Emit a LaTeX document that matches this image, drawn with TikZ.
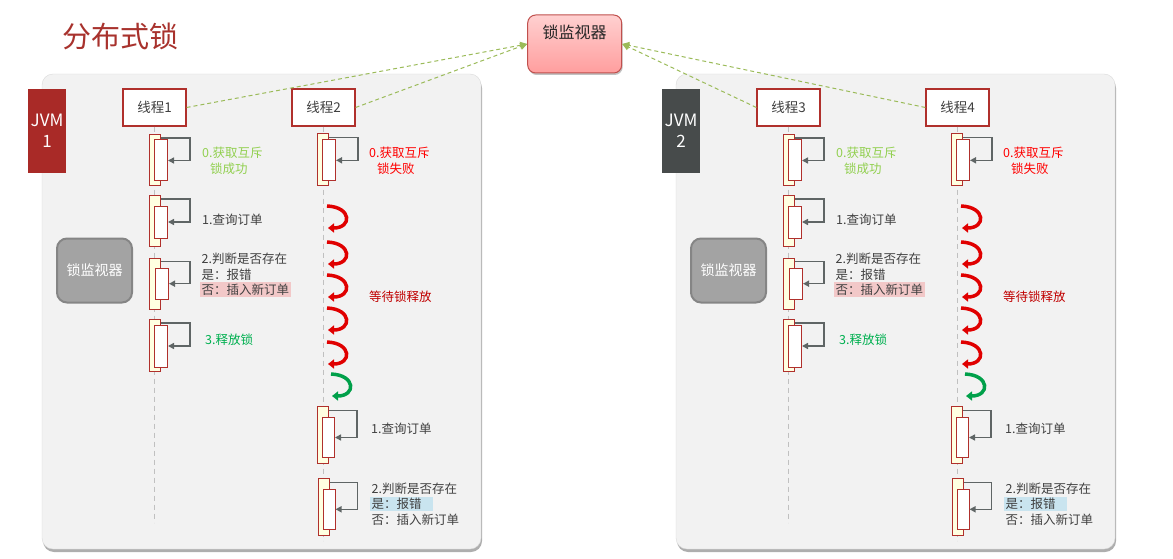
\documentclass[tikz,border=0pt]{standalone}
\usepackage{fontspec}
\newfontfamily\cjk{Noto Sans CJK SC}
\usetikzlibrary{positioning, arrows.meta, calc, shadows}
\definecolor{titleRed}{HTML}{A8322D}
\definecolor{borderRed}{HTML}{B0302C}
\definecolor{jvmRed}{HTML}{A92A27}
\definecolor{jvmGray}{HTML}{474B4B}
\definecolor{bgPanel}{HTML}{F2F2F2}
\definecolor{borderPanel}{HTML}{DADADA}
\definecolor{bgAct}{HTML}{FFFFE1}
\definecolor{loopGray}{HTML}{5F6565}
\definecolor{lifeGray}{HTML}{C0C0C0}
\definecolor{textGray}{HTML}{404040}
\definecolor{okGreen}{HTML}{92D050}
\definecolor{relGreen}{HTML}{00B050}
\definecolor{failRed}{HTML}{FF0000}
\definecolor{waitRed}{HTML}{C00000}
\definecolor{curlRed}{HTML}{E00000}
\definecolor{curlGreen}{HTML}{00A04A}
\definecolor{hlPink}{HTML}{F2C8C8}
\definecolor{hlBlue}{HTML}{C9E4EF}
\definecolor{linkGreen}{HTML}{9BBB59}
\definecolor{monTop}{HTML}{FFD0D0}
\definecolor{monBottom}{HTML}{FF9E9E}
\definecolor{monBorder}{HTML}{C0504D}
\definecolor{bgMonGray}{HTML}{A3A3A3}
\definecolor{borderMonGray}{HTML}{858585}
\setlength{\fboxsep}{1.5pt}

\begin{document}
\begin{tikzpicture}[
    x=1pt, y=-1pt,
    font=\cjk,
    >={Triangle[length=6pt, width=6pt]},
    threadBox/.style={
        draw=borderRed, fill=white, line width=1.2pt, inner sep=0pt,
        minimum width=63pt, minimum height=37pt,
        text=textGray, font=\cjk\fontsize{13.5}{16}\selectfont
    },
    actOuter/.style={draw=borderRed, fill=bgAct, line width=1pt, minimum width=11pt, inner sep=0pt},
    actInner/.style={draw=borderRed, fill=white, line width=1pt, minimum width=13pt, inner sep=0pt},
    selfLoop/.style={->, draw=loopGray, line width=1.5pt},
    lifeline/.style={draw=lifeGray, line width=1.3pt, dash pattern=on 5pt off 4pt},
    curl/.style={-{Triangle[length=6pt, width=9pt]}, line width=3.5pt},
    stepText/.style={anchor=west, align=left, inner sep=0pt, text=textGray, font=\cjk\fontsize{12.5}{15.5}\selectfont},
    jvmTag/.style={minimum width=38pt, minimum height=84pt, inner sep=0pt, align=center, text=white, font=\cjk\fontsize{17}{21}\selectfont},
    grayMon/.style={
        draw=borderMonGray, fill=bgMonGray, line width=2pt, rounded corners=10pt,
        minimum width=75pt, minimum height=64pt, text=white, font=\cjk\fontsize{14}{16}\selectfont
    },
    monitor/.style={
        draw=monBorder, top color=monTop, bottom color=monBottom, line width=1pt, rounded corners=8pt,
        minimum width=94pt, minimum height=58pt, text height=12pt, text depth=22pt,
        text=black!85, font=\cjk\fontsize{16}{18}\selectfont,
        drop shadow={shadow xshift=1pt, shadow yshift=-2pt, fill=black!40, opacity=0.6}
    },
    link/.style={-{Triangle[length=7pt, width=7pt]}, draw=linkGreen, line width=1pt, dash pattern=on 4pt off 3pt}
]
\useasboundingbox (0,0) rectangle (1173,559);

\node[anchor=west, inner sep=0pt, text=titleRed, font=\cjk\fontsize{29}{32}\selectfont] (title) at (62,36) {分布式锁};

% one panel per JVM
\foreach \dx/\jvm/\tagCol/\ta/\tb in {0/1/jvmRed/1/2, 634/2/jvmGray/3/4}{
\begin{scope}[xshift=\dx pt]
    \filldraw[fill=bgPanel, draw=borderPanel, rounded corners=11pt,
        drop shadow={shadow xshift=1pt, shadow yshift=-3pt, fill=black!45, opacity=0.7}] (42,74) rectangle (481,549);

    \node[jvmTag, fill=\tagCol] (jvm\jvm) at (47,131) {JVM\\\jvm};
    \node[grayMon] (gm\jvm) at (94.5,270.5) {锁监视器};

    \node[threadBox] (t\ta) at (154.5,107.5) {线程\ta};
    \node[threadBox] (t\tb) at (323.5,107.5) {线程\tb};

    \draw[lifeline] (t\ta.south) -- ++(0,396) coordinate (end\ta);
    \draw[lifeline] (t\tb.south) -- ++(0,414) coordinate (end\tb);

    % thread holding the lock
    \node[actOuter, minimum height=51pt] (a\ta-0) at (155,160) {};
    \node[actInner, minimum height=41pt] (i\ta-0) at (161,160.5) {};
    \draw[selfLoop] ([yshift=-4pt]a\ta-0.north east) -- ++(29,0) |- (i\ta-0.east);

    \node[actOuter, minimum height=51pt] (a\ta-1) at (155,221) {};
    \node[actInner, minimum height=32pt] (i\ta-1) at (161,222) {};
    \draw[selfLoop] ([yshift=-4pt]a\ta-1.north east) -- ++(29,0) |- (i\ta-1.east);

    \node[actOuter, minimum height=51pt] (a\ta-2) at (155,283.5) {};
    \node[actInner, minimum height=31pt] (i\ta-2) at (162,283.7) {};
    \draw[selfLoop] ([yshift=-4pt]a\ta-2.north east) -- ++(29,0) |- (i\ta-2.east);

    \node[actOuter, minimum height=52pt] (a\ta-3) at (155,345.5) {};
    \node[actInner, minimum height=42pt] (i\ta-3) at (161,346) {};
    \draw[selfLoop] ([yshift=-4pt]a\ta-3.north east) -- ++(29,0) |- (i\ta-3.east);

    \node[stepText, text=okGreen] (s\ta-0) at (202,161) {0.获取互斥\\\hspace*{8pt}锁成功};
    \node[stepText] (s\ta-1) at (202,220) {1.查询订单};
    \node[stepText] (s\ta-2) at (200,275) {\hspace*{1.5pt}2.判断是否存在\\\hspace*{1.5pt}是：报错\\\colorbox{hlPink}{否：插入新订单}};
    \node[stepText, text=relGreen] (s\ta-3) at (205,340) {3.释放锁};

    % thread waiting for the lock
    \node[actOuter, minimum height=51pt] (a\tb-0) at (323,159.5) {};
    \node[actInner, minimum height=41pt] (i\tb-0) at (329,160.3) {};
    \draw[selfLoop] ([yshift=-4pt]a\tb-0.north east) -- ++(29,0) |- (i\tb-0.east);

    \foreach \cy in {206,242,275,308,342}
        \draw[curl, curlRed] (327,\cy) .. controls (352,\cy+1) and (352,\cy+22) .. (328,\cy+22);
    \draw[curl, curlGreen] (331,374) .. controls (356,375) and (356,396) .. (332,396);

    \node[actOuter, minimum height=57pt] (a\tb-1) at (323,434.7) {};
    \node[actInner, minimum height=40pt, minimum width=12pt] (i\tb-1) at (328.5,437.5) {};
    \draw[selfLoop] ([yshift=-5pt]a\tb-1.north east) -- ++(28,0) |- (i\tb-1.east);

    \node[actOuter, minimum height=57pt] (a\tb-2) at (323.5,506.7) {};
    \node[actInner, minimum height=40pt, minimum width=12pt] (i\tb-2) at (329,509.3) {};
    \draw[selfLoop] ([yshift=-5pt]a\tb-2.north east) -- ++(28,0) |- (i\tb-2.east);

    \node[stepText, text=failRed] (s\tb-0) at (369,161) {0.获取互斥\\\hspace*{8pt}锁失败};
    \node[stepText, text=waitRed] (w\tb) at (369,297) {等待锁释放};
    \node[stepText] (s\tb-1) at (371,429) {1.查询订单};
    \node[stepText] (s\tb-2) at (370,504) {\hspace*{1.5pt}2.判断是否存在\\\colorbox{hlBlue}{是：报错\hspace{10pt}}\\\hspace*{1.5pt}否：插入新订单};
\end{scope}
}

\node[monitor] (mon) at (574.7,44) {锁监视器};

\draw[link] (t1.east) -- (mon.west);
\draw[link] (t2.east) -- (mon.west);
\draw[link] (t3.west) -- (mon.east);
\draw[link] (t4.west) -- (mon.east);

\end{tikzpicture}
\end{document}
